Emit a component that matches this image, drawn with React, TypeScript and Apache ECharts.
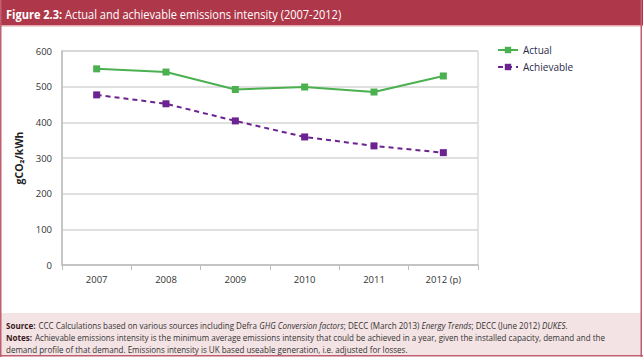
import React, { useEffect, useRef } from "react";
import * as echarts from "echarts";

const categories = ["2007", "2008", "2009", "2010", "2011", "2012 (p)"];
const actual = [550, 541, 492, 499, 485, 530];
const achievable = [477, 452, 404, 359, 334, 315];
const yTicks = { min: 0, max: 600, interval: 100 };

const W = 643;
const H = 357;

export default function App() {
  const ref = useRef<HTMLDivElement>(null);
  useEffect(() => {
    document.body.style.margin = "0";
    const chart = echarts.init(ref.current!, null, { renderer: "svg" });
    const font = "'Open Sans', 'Noto Sans', sans-serif";
    const fScale = 0.893;
    chart.setOption({
      animation: false,
      backgroundColor: "#ffffff",
      textStyle: { fontFamily: font },
      grid: {
        left: 62,
        right: W - 478,
        top: 51,
        bottom: H - 265,
        show: true,
        borderColor: "#c9c9c9",
        borderWidth: 1,
        backgroundColor: "transparent",
      },
      legend: {
        left: 492,
        top: 40,
        orient: "vertical",
        itemWidth: 20,
        itemHeight: 8,
        itemGap: 7,
        textStyle: { fontFamily: font, fontSize: 10, color: "#2a2a4a" },
        data: ["Actual", "Achievable"],
      },
      xAxis: {
        type: "category",
        data: categories,
        boundaryGap: true,
        axisLine: { lineStyle: { color: "#bdbdbd", width: 1.5 } },
        axisTick: { show: true, length: 5, lineStyle: { color: "#bdbdbd" } },
        axisLabel: { color: "#333", fontSize: 9.5, fontFamily: font, margin: 9 },
      },
      yAxis: {
        type: "value",
        min: yTicks.min,
        max: yTicks.max,
        interval: yTicks.interval,
        name: "gCO₂/kWh",
        nameLocation: "middle",
        nameGap: 32,
        nameTextStyle: { fontFamily: font, fontSize: 10.5, fontWeight: "bold", color: "#222" },
        axisLine: { show: true, lineStyle: { color: "#bdbdbd", width: 1.5 } },
        axisTick: { show: false },
        axisLabel: { color: "#333", fontSize: 9.5, fontFamily: font, margin: 10 },
        splitLine: { lineStyle: { color: "#d6d6d6", width: 1.5 } },
      },
      series: [
        {
          name: "Actual",
          type: "line",
          data: actual,
          symbol: "rect",
          symbolSize: 7,
          itemStyle: { color: "#4bb04f" },
          lineStyle: { color: "#4bb04f", width: 2 },
        },
        {
          name: "Achievable",
          type: "line",
          data: achievable,
          symbol: "rect",
          symbolSize: 7,
          itemStyle: { color: "#6a2390" },
          lineStyle: { color: "#6a2390", width: 2, type: [5, 4] },
        },
      ],
      graphic: [
        { type: "rect", shape: { x: 0, y: 0, width: W, height: 25 }, style: { fill: "#ae3849" }, z: 10 },
        { type: "rect", shape: { x: 0, y: 25, width: W, height: 1.5 }, style: { fill: "#e2a5ae" }, z: 10 },
        { type: "rect", shape: { x: 0, y: 0, width: 1.5, height: H }, style: { fill: "#c05f70" }, z: 10 },
        { type: "rect", shape: { x: W - 2.5, y: 0, width: 1.5, height: H }, style: { fill: "#c05f70" }, z: 10 },
        { type: "rect", shape: { x: 0, y: 313, width: W - 1, height: 42 }, style: { fill: "#f3e3e4" }, z: 0 },
        { type: "rect", shape: { x: 0, y: H - 2, width: W, height: 1.5 }, style: { fill: "#c05f70" }, z: 10 },
        {
          type: "text",
          x: 6,
          y: 14,
          scaleX: 0.85,
          z: 11,
          style: {
            text: "{b|Figure 2.3:} {r|Actual and achievable emissions intensity (2007-2012)}",
            verticalAlign: "middle",
            rich: {
              b: { fontFamily: font, fontWeight: "bold", fontSize: 13, fill: "#ffffff" },
              r: { fontFamily: font, fontSize: 13, fill: "#ffffff" },
            },
          },
        },
        {
          type: "text",
          x: 6,
          y: 325,
          scaleX: fScale,
          z: 11,
          style: {
            text:
              "{b|Source:} {r|CCC Calculations based on various sources including Defra }{i|GHG Conversion factors}{r|; DECC (March 2013) }{i|Energy Trends}{r|; DECC (June 2012) }{i|DUKES}{r|.}",
            verticalAlign: "middle",
            rich: {
              b: { fontFamily: font, fontWeight: "bold", fontSize: 9, fill: "#3a1a22" },
              r: { fontFamily: font, fontSize: 9, fill: "#333" },
              i: { fontFamily: font, fontStyle: "italic", fontSize: 9, fill: "#333" },
            },
          },
        },
        {
          type: "text",
          x: 6,
          y: 337,
          scaleX: fScale,
          z: 11,
          style: {
            text:
              "{b|Notes:} {r|Achievable emissions intensity is the minimum average emissions intensity that could be achieved in a year, given the installed capacity, demand and the}",
            verticalAlign: "middle",
            rich: {
              b: { fontFamily: font, fontWeight: "bold", fontSize: 9, fill: "#3a1a22" },
              r: { fontFamily: font, fontSize: 9, fill: "#333" },
            },
          },
        },
        {
          type: "text",
          x: 6,
          y: 349,
          scaleX: fScale,
          z: 11,
          style: {
            text: "demand profile of that demand. Emissions intensity is UK based useable generation, i.e. adjusted for losses.",
            verticalAlign: "middle",
            fontFamily: font,
            fontSize: 9,
            fill: "#333",
          },
        },
      ],
    });
    return () => chart.dispose();
  }, []);
  return (
    <div
      ref={ref}
      style={{ position: "absolute", left: 0, top: 0, width: W, height: H }}
    />
  );
}
